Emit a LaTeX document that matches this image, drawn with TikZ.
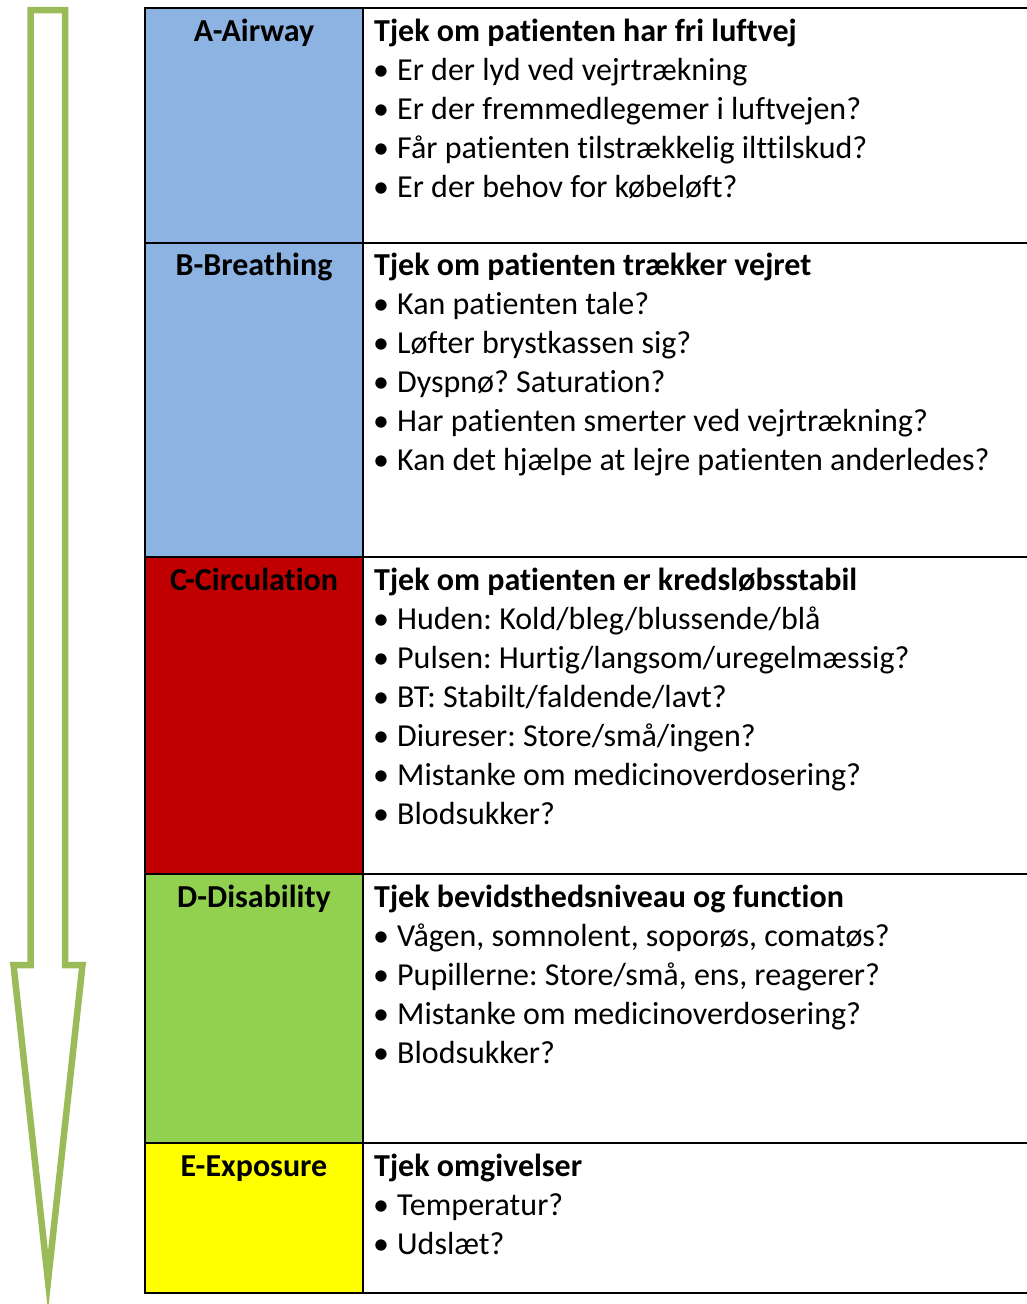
\documentclass[tikz,border=0pt]{standalone}
\usepackage{fontspec}
\setmainfont{Carlito}[Ligatures={NoCommon}]
\definecolor{arrowgreen}{HTML}{9BBB59}
\definecolor{abblue}{HTML}{8DB3E2}
\definecolor{cred}{HTML}{C00000}
\definecolor{dgreen}{HTML}{92D050}
\definecolor{eyellow}{HTML}{FFFF00}
\tikzset{
  hdr/.style={font=\fontsize{32}{39}\selectfont\bfseries, anchor=base, inner sep=0pt},
  ttl/.style={font=\fontsize{32}{39}\selectfont\bfseries, anchor=base west, inner sep=0pt},
  itm/.style={font=\fontsize{32}{39}\selectfont, anchor=base west, inner sep=0pt},
  cell/.style={draw=black, line width=2pt},
}
\newcommand{\bitem}[3]{%
  \node[itm] (#1b) at (373,#2) {\textbullet};
  \node[itm] (#1) at (397,#2) {#3};
}
\frenchspacing
\begin{document}
\begin{tikzpicture}[x=1pt,y=-1pt]
\useasboundingbox (0,0) rectangle (1026,1304);
% arrow
\draw[arrowgreen, line width=6.5pt, line join=miter]
  (30.5,10) -- (65,10) -- (65,965) -- (82.5,965) -- (48,1281) -- (13.5,965) -- (30.5,965) -- cycle;
% cells
\path[cell, fill=abblue] (145,8) rectangle (362.5,242.5);
\path[cell, fill=abblue] (145,242.5) rectangle (362.5,557);
\path[cell, fill=cred] (145,557) rectangle (362.5,874);
\path[cell, fill=dgreen] (145,874) rectangle (362.5,1143);
\path[cell, fill=eyellow] (145,1143) rectangle (362.5,1293);
\path[cell] (362.5,8) rectangle (1040,242.5);
\path[cell] (362.5,242.5) rectangle (1040,557);
\path[cell] (362.5,557) rectangle (1040,874);
\path[cell] (362.5,874) rectangle (1040,1143);
\path[cell] (362.5,1143) rectangle (1040,1293);
\draw[line width=2.6pt] (145,8) -- (145,1293);
% A
\node[hdr] (ha) at (254,41) {A-Airway};
\node[ttl] (ta) at (374,41) {Tjek om patienten har fri luftvej};
\bitem{a1}{80}{Er der lyd ved vejrtrækning}
\bitem{a2}{119}{Er der fremmedlegemer i luftvejen?}
\bitem{a3}{158}{Får patienten tilstrækkelig ilttilskud?}
\bitem{a4}{197}{Er der behov for købeløft?}
% B
\node[hdr] (hb) at (254,275.5) {B-Breathing};
\node[ttl] (tb) at (374,275.5) {Tjek om patienten trækker vejret};
\bitem{b1}{314.5}{Kan patienten tale?}
\bitem{b2}{353.5}{Løfter brystkassen sig?}
\bitem{b3}{392.5}{Dyspnø? Saturation?}
\bitem{b4}{431.5}{Har patienten smerter ved vejrtrækning?}
\bitem{b5}{470.5}{Kan det hjælpe at lejre patienten anderledes?}
% C
\node[hdr] (hc) at (254,590) {C-Circulation};
\node[ttl] (tc) at (374,590) {Tjek om patienten er kredsløbsstabil};
\bitem{c1}{629}{Huden: Kold/bleg/blussende/blå}
\bitem{c2}{668}{Pulsen: Hurtig/langsom/uregelmæssig?}
\bitem{c3}{707}{BT: Stabilt/faldende/lavt?}
\bitem{c4}{746}{Diureser: Store/små/ingen?}
\bitem{c5}{785}{Mistanke om medicinoverdosering?}
\bitem{c6}{824}{Blodsukker?}
% D
\node[hdr] (hd) at (254,907) {D-Disability};
\node[ttl] (td) at (374,907) {Tjek bevidsthedsniveau og function};
\bitem{d1}{946}{Vågen, somnolent, soporøs, comatøs?}
\bitem{d2}{985}{Pupillerne: Store/små, ens, reagerer?}
\bitem{d3}{1024}{Mistanke om medicinoverdosering?}
\bitem{d4}{1063}{Blodsukker?}
% E
\node[hdr] (he) at (254,1176) {E-Exposure};
\node[ttl] (te) at (374,1176) {Tjek omgivelser};
\bitem{e1}{1215}{Temperatur?}
\bitem{e2}{1254}{Udslæt?}
\end{tikzpicture}
\end{document}
